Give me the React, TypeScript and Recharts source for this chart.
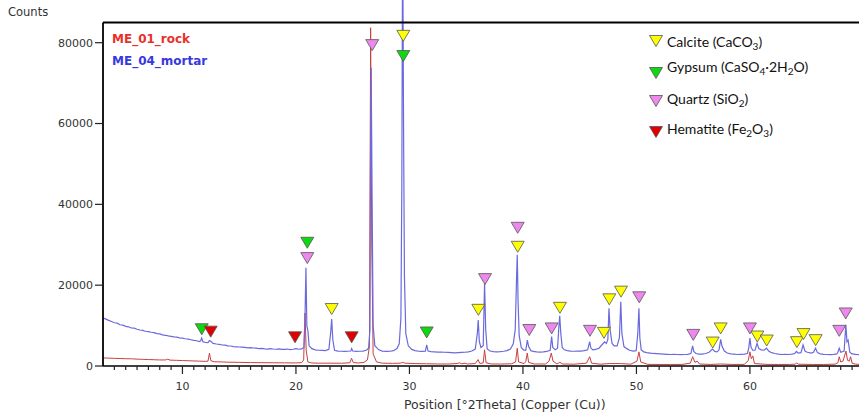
import React from 'react';
import { ComposedChart, Line, Scatter, XAxis, YAxis, ReferenceLine } from 'recharts';

// ---- data ----
const mortarPts: [number, number][] = [
  [3.0,11900],[3.25,11600],[3.5,11300],[3.75,11000],[4.0,10700],[4.25,10600],[4.5,10200],[4.75,10100],[5.0,9800],[5.25,9700],[5.5,9400],[5.75,9350],[6.0,9100],[6.25,8900],[6.5,8800],[6.75,8600],[7.0,8500],[7.25,8350],[7.5,8250],[7.75,8000],[8.0,7950],[8.25,7700],[8.5,7600],[8.75,7450],[9.0,7350],[9.25,7200],[9.5,7150],[9.75,6950],[10.0,6900],[10.25,6750],[10.5,6650],[10.75,6500],[11.0,6350],[11.25,6250],[11.5,6050],[11.6,6200],[11.69,6900],[11.8,6000],[12.0,5850],[12.25,5800],[12.38,6300],[12.5,6100],[12.7,5600],[13.0,5450],[13.25,5350],[13.5,5200],[13.75,5150],[14.0,5000],[14.25,4950],[14.5,4800],[14.75,4750],[15.0,4700],[15.25,4650],[15.5,4600],[15.75,4500],[16.0,4550],[16.25,4450],[16.5,4400],[16.75,4300],[17.0,4350],[17.25,4250],[17.5,4200],[17.75,4300],[18.0,4200],[18.25,4150],[18.5,4250],[18.75,4100],[19.0,4100],[19.25,4200],[19.5,4050],[19.75,4150],[20.0,4300],[20.25,4150],[20.5,4250],[20.7,4600],[20.8,12000],[20.88,24300],[20.96,10000],[21.06,8600],[21.16,5000],[21.4,4300],[21.7,4000],[22.0,3900],[22.3,3850],[22.6,3800],[22.9,4100],[23.05,8000],[23.15,11600],[23.25,6500],[23.4,3900],[23.7,3700],[24.0,3650],[24.3,3600],[24.6,3650],[24.83,3700],[24.91,4300],[25.0,3700],[25.3,3600],[25.6,3650],[25.9,3700],[26.2,3900],[26.4,4400],[26.52,9000],[26.57,50000],[26.63,73800],[26.7,45000],[26.8,10000],[26.95,5000],[27.3,4000],[27.6,3700],[28.0,3600],[28.3,3650],[28.6,3800],[28.9,4300],[29.1,5500],[29.25,12000],[29.33,45000],[29.4,110000],[29.48,60000],[29.56,22000],[29.68,8000],[29.9,5000],[30.2,4100],[30.5,3800],[30.8,3650],[31.1,3600],[31.4,3650],[31.52,5200],[31.64,3700],[31.9,3550],[32.2,3500],[32.5,3450],[32.8,3450],[33.1,3400],[33.4,3350],[33.7,3300],[34.0,3250],[34.3,3300],[34.6,3350],[34.9,3400],[35.2,3500],[35.5,3700],[35.8,4200],[35.98,8000],[36.06,11400],[36.16,6000],[36.3,4600],[36.5,5000],[36.62,20600],[36.72,9000],[36.85,4200],[37.1,3700],[37.4,3550],[37.7,3500],[38.0,3550],[38.3,3650],[38.6,3800],[38.9,4200],[39.15,5500],[39.32,9000],[39.44,22000],[39.5,27500],[39.57,16000],[39.67,7500],[39.85,4600],[40.05,4000],[40.25,3900],[40.39,6400],[40.5,4800],[40.7,3800],[40.9,3600],[41.2,3500],[41.5,3450],[41.8,3500],[42.1,3600],[42.4,3900],[42.53,7300],[42.63,4600],[42.85,4000],[43.05,4400],[43.15,9000],[43.24,12400],[43.34,8000],[43.46,4600],[43.65,4000],[43.9,3800],[44.2,3700],[44.5,3650],[44.8,3700],[45.1,3700],[45.4,3800],[45.7,4000],[45.88,6000],[45.98,4500],[46.15,4000],[46.4,4100],[46.7,4400],[46.95,5200],[47.2,6000],[47.35,5600],[47.48,6500],[47.58,14300],[47.68,9000],[47.85,5600],[48.05,5000],[48.3,5000],[48.5,7000],[48.62,15900],[48.72,8000],[48.9,4800],[49.15,4300],[49.4,3900],[49.7,3700],[49.98,3800],[50.12,8000],[50.22,14300],[50.3,7000],[50.42,4000],[50.65,3500],[50.9,3300],[51.2,3200],[51.5,3100],[51.8,3050],[52.1,3000],[52.4,2950],[52.7,2900],[53.0,2850],[53.3,2900],[53.6,2850],[53.9,2800],[54.2,2850],[54.5,2900],[54.8,3100],[54.95,5000],[55.05,3600],[55.25,3100],[55.5,2950],[55.8,2950],[56.1,3100],[56.4,3400],[56.7,4200],[56.9,3600],[57.1,3500],[57.28,4000],[57.42,6600],[57.55,4800],[57.75,3700],[58.0,3200],[58.3,3000],[58.6,2950],[58.9,2850],[59.2,2900],[59.5,2950],[59.78,3100],[59.9,4500],[60.0,6900],[60.1,4600],[60.25,3900],[60.45,3900],[60.63,5600],[60.78,4300],[61.0,4000],[61.25,3900],[61.46,4400],[61.65,3700],[61.9,3300],[62.2,3100],[62.5,2950],[62.8,2850],[63.1,2900],[63.4,2850],[63.7,2950],[63.95,3100],[64.1,3600],[64.25,3200],[64.5,3300],[64.68,5200],[64.85,3700],[65.05,3400],[65.4,3200],[65.6,3400],[65.78,4400],[65.95,3300],[66.2,3000],[66.5,2900],[66.8,2850],[67.1,2800],[67.4,2900],[67.65,3000],[67.75,3400],[67.87,4400],[68.0,3400],[68.3,3700],[68.45,10200],[68.55,6000],[68.65,6400],[68.8,3400],[69.0,3000],[69.3,2900],[69.7,2800]
];

const rockPts: [number, number][] = [
  [3.0,2000],[3.5,1950],[4.0,1900],[4.5,1850],[5.0,1800],[5.5,1780],[6.0,1700],[6.5,1650],[7.0,1600],[7.5,1550],[8.0,1500],[8.5,1500],[8.7,1700],[8.9,1450],[9.5,1400],[10.0,1350],[10.5,1300],[11.0,1250],[11.5,1200],[12.0,1150],[12.25,1200],[12.38,3200],[12.5,1300],[12.8,1050],[13.5,1000],[14.0,950],[15.0,900],[16.0,850],[17.0,820],[18.0,800],[19.0,780],[20.0,760],[20.5,850],[20.68,1500],[20.8,13100],[20.9,4000],[21.05,1000],[21.4,750],[22.0,700],[23.0,700],[24.0,680],[24.75,800],[24.9,1900],[25.05,850],[25.5,750],[26.0,900],[26.3,1500],[26.48,5000],[26.58,83700],[26.68,30000],[26.8,3000],[27.1,1000],[27.6,700],[28.5,650],[29.2,700],[29.4,900],[29.6,700],[30.5,600],[31.5,550],[32.5,500],[33.5,500],[34.2,600],[34.4,800],[34.6,550],[34.9,700],[35.1,500],[35.8,600],[36.05,1600],[36.2,600],[36.5,800],[36.62,4000],[36.75,800],[37.2,500],[38.0,480],[39.0,550],[39.35,1000],[39.5,4400],[39.62,1000],[40.1,600],[40.25,1100],[40.38,3200],[40.5,900],[41.0,500],[42.0,500],[42.3,1200],[42.5,3200],[42.65,1200],[43.0,500],[43.25,900],[43.5,500],[44.5,450],[45.6,700],[45.88,2300],[46.05,700],[46.8,450],[47.6,600],[48.6,600],[49.5,450],[50.05,1200],[50.22,3500],[50.38,1000],[51.0,400],[52.0,380],[53.0,380],[54.0,380],[54.75,700],[54.95,2300],[55.15,900],[55.35,1200],[55.55,500],[56.5,380],[57.4,500],[58.5,380],[59.5,400],[59.85,1300],[60.0,3500],[60.12,1800],[60.25,2500],[60.4,600],[61.5,400],[62.5,380],[63.5,380],[64.0,450],[64.12,800],[64.25,450],[65.5,380],[66.5,380],[67.5,450],[67.75,800],[67.87,2300],[68.0,1000],[68.2,1200],[68.46,3700],[68.6,1400],[68.75,1200],[68.87,2300],[69.0,700],[69.3,450],[69.7,400]
];

const calciteMarks: [number, number][] = [
  [23.15,14100],[29.46,81700],[36.07,13900],[39.54,29500],[43.26,14400],[47.14,8200],[47.61,16500],[48.64,18400],[56.72,5800],[57.42,9300],[60.65,7300],[61.48,6300],[64.14,5900],[64.72,7900],[65.79,6400]
];
const gypsumMarks: [number, number][] = [
  [11.70,9100],[21.0,30500],[29.46,76700],[31.52,8300]
];
const quartzMarks: [number, number][] = [
  [21.0,26700],[26.72,79400],[36.66,21500],[39.54,34200],[40.56,8900],[42.53,9300],[45.91,8700],[50.25,17000],[55.01,7700],[60.0,9300],[67.87,8700],[68.44,13000]
];
const hematiteMarks: [number, number][] = [
  [12.49,8500],[19.92,7100],[24.91,7100]
];

const yTicks = [0, 20000, 40000, 60000, 80000];
const majorTicks = [10, 20, 30, 40, 50, 60];
const xTicks = [4,5,6,7,8,9,10,11,12,13,14,15,16,17,18,19,20,21,22,23,24,25,26,27,28,29,30,31,32,33,34,35,36,37,38,39,40,41,42,43,44,45,46,47,48,49,50,51,52,53,54,55,56,57,58,59,60,61,62,63,64,65,66,67,68,69];

const seriesNames = ['ME_01_rock', 'ME_04_mortar'];
const mineralNames = ['Calcite', 'Gypsum', 'Quartz', 'Hematite'];

// ---- build tables ----
const toObj = (a: [number, number][]) => a.map(([x, y]) => ({ x, y }));
const mortar = toObj(mortarPts);
const rock = toObj(rockPts);
const calcite = toObj(calciteMarks);
const gypsum = toObj(gypsumMarks);
const quartz = toObj(quartzMarks);
const hematite = toObj(hematiteMarks);

const X_MIN = 3;
const X_MAX = 69.61;
const Y_MAX = 90566;
const FRAME_TOP = 85000;

const C_CALCITE = '#ffff00';
const C_GYPSUM = '#10d810';
const C_QUARTZ = '#ee88ee';
const C_HEMATITE = '#e00000';

const tri = (fill: string) => (props: any) => {
  const { cx, cy } = props;
  if (cx == null || cy == null) return <g />;
  return (
    <polygon
      points={`${cx - 6.5},${cy - 5.5} ${cx + 6.5},${cy - 5.5} ${cx},${cy + 5.5}`}
      fill={fill}
      stroke="#555"
      strokeWidth={0.8}
    />
  );
};

const XTick = (props: any) => {
  const { x, y, payload } = props;
  const v = payload.value;
  const major = majorTicks.includes(v);
  return (
    <g>
      <line x1={x} y1={y} x2={x} y2={y + (major ? 8 : 4)} stroke="#222" strokeWidth={1.2} />
      {major && (
        <text x={x} y={y + 24} textAnchor="middle" fontFamily="DejaVu Sans" fontSize={11} fill="#333">
          {v}
        </text>
      )}
    </g>
  );
};

const LegTri = ({ fill }: { fill: string }) => (
  <svg width={14} height={12} style={{ display: 'block' }}>
    <polygon points="0.5,0.5 13.5,0.5 7,11.5" fill={fill} stroke="#555" strokeWidth={0.8} />
  </svg>
);

const sub = (s: string) => (
  <span style={{ fontSize: 10, position: 'relative', top: 3 }}>{s}</span>
);

const legendRows = [
  { name: mineralNames[0], fill: C_CALCITE, textY: 42, triY: 41, formula: <>(CaCO{sub('3')})</> },
  { name: mineralNames[1], fill: C_GYPSUM, textY: 67, triY: 73, formula: <>(CaSO{sub('4')}·2H{sub('2')}O)</> },
  { name: mineralNames[2], fill: C_QUARTZ, textY: 99, triY: 101, formula: <>(SiO{sub('2')})</> },
  { name: mineralNames[3], fill: C_HEMATITE, textY: 129, triY: 132, formula: <>(Fe{sub('2')}O{sub('3')})</> },
];

export default function App() {
  return (
    <div style={{ position: 'absolute', left: 0, top: 0, width: 859, height: 417, overflow: 'hidden', background: '#fff' }}>
      <ComposedChart width={859} height={417} margin={{ top: 0, right: 0, bottom: 0, left: 0 }}>
        <XAxis
          dataKey="x"
          type="number"
          domain={[X_MIN, X_MAX]}
          allowDataOverflow
          ticks={xTicks}
          interval={0}
          tick={<XTick />}
          tickLine={false}
          tickSize={0}
          tickMargin={0}
          axisLine={{ stroke: '#000', strokeWidth: 1.6 }}
          height={51}
        />
        <YAxis
          type="number"
          domain={[0, Y_MAX]}
          allowDataOverflow
          ticks={yTicks}
          interval={0}
          width={103}
          tickSize={8}
          tickMargin={2}
          axisLine={false}
          tickLine={{ stroke: '#222', strokeWidth: 1.2 }}
          tick={{ fontFamily: 'DejaVu Sans', fontSize: 11, fill: '#333' }}
        />
        <Line data={rock} dataKey="y" name={seriesNames[0]} type="linear" stroke="#c84040" strokeWidth={1} dot={false} isAnimationActive={false} />
        <Line data={mortar} dataKey="y" name={seriesNames[1]} type="linear" stroke="#6a6ade" strokeWidth={1.2} dot={false} isAnimationActive={false} />
        <Scatter data={calcite} dataKey="y" shape={tri(C_CALCITE)} isAnimationActive={false} />
        <Scatter data={gypsum} dataKey="y" shape={tri(C_GYPSUM)} isAnimationActive={false} />
        <Scatter data={quartz} dataKey="y" shape={tri(C_QUARTZ)} isAnimationActive={false} />
        <Scatter data={hematite} dataKey="y" shape={tri(C_HEMATITE)} isAnimationActive={false} />
        <ReferenceLine y={FRAME_TOP} stroke="#000" strokeWidth={2} />
        <ReferenceLine segment={[{ x: X_MIN, y: 0 }, { x: X_MIN, y: FRAME_TOP }]} stroke="#000" strokeWidth={1.8} />
      </ComposedChart>

      <div style={{ position: 'absolute', left: 8, top: 5, fontFamily: 'DejaVu Sans', fontSize: 11.5, lineHeight: '14px', color: '#333' }}>Counts</div>
      <div style={{ position: 'absolute', left: 112, top: 32, fontFamily: 'DejaVu Sans', fontWeight: 'bold', fontSize: 12, lineHeight: '14px', color: '#e8302a' }}>{seriesNames[0]}</div>
      <div style={{ position: 'absolute', left: 112, top: 54, fontFamily: 'DejaVu Sans', fontWeight: 'bold', fontSize: 12, lineHeight: '14px', color: '#3838e0' }}>{seriesNames[1]}</div>

      {legendRows.map((r) => (
        <React.Fragment key={r.name}>
          <div style={{ position: 'absolute', left: 649, top: r.triY - 6 }}>
            <LegTri fill={r.fill} />
          </div>
          <div style={{ position: 'absolute', left: 667, top: r.textY - 9, fontFamily: 'Lato', fontSize: 14, lineHeight: '18px', color: '#111', whiteSpace: 'nowrap' }}>
            {r.name} {r.formula}
          </div>
        </React.Fragment>
      ))}

      <div style={{ position: 'absolute', left: 404, top: 397, fontFamily: 'DejaVu Sans', fontSize: 12.5, lineHeight: '16px', color: '#333', whiteSpace: 'nowrap' }}>
        Position [°2Theta] (Copper (Cu))
      </div>
    </div>
  );
}
